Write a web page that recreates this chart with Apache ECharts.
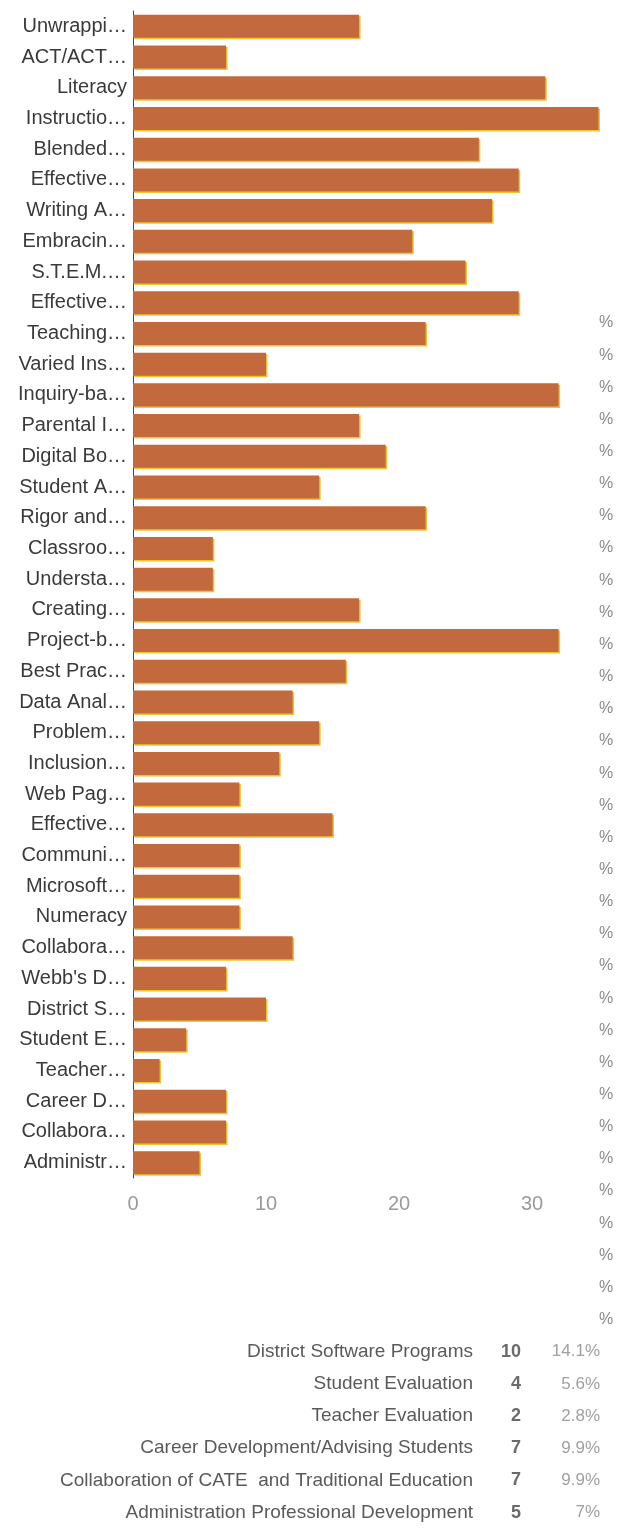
<!DOCTYPE html>
<html>
<head>
<meta charset="utf-8">
<script src="https://cdn.jsdelivr.net/npm/echarts@6/dist/echarts.min.js"></script>
<style>
html,body{margin:0;padding:0;background:#fff;}
#c{width:618px;height:1531px;}
</style>
</head>
<body>
<div id="c"></div>
<script>
var categories = ["Unwrappi…","ACT/ACT…","Literacy","Instructio…","Blended…","Effective…","Writing A…","Embracin…","S.T.E.M.…","Effective…","Teaching…","Varied Ins…","Inquiry-ba…","Parental I…","Digital Bo…","Student A…","Rigor and…","Classroo…","Understa…","Creating…","Project-b…","Best Prac…","Data Anal…","Problem…","Inclusion…","Web Pag…","Effective…","Communi…","Microsoft…","Numeracy","Collabora…","Webb's D…","District S…","Student E…","Teacher…","Career D…","Collabora…","Administr…"];
var counts = [17,7,31,35,26,29,27,21,25,29,22,10,32,17,19,14,22,6,6,17,32,16,12,14,11,8,15,8,8,8,12,7,10,4,2,7,7,5];
var xTicks = [0,10,20,30];
var tableNames = ["District Software Programs","Student Evaluation","Teacher Evaluation","Career Development/Advising Students","Collaboration of CATE  and Traditional Education","Administration Professional Development"];
var tableCounts = [10,4,2,7,7,5];
var tablePercents = ["14.1%","5.6%","2.8%","9.9%","9.9%","7%"];
var clippedPercentRows = 32;

var chart = echarts.init(document.getElementById('c'), null, {renderer:'canvas'});
var FONT = '"Liberation Sans", Arial, sans-serif';

var graphics = [];
var rowY0 = 323, rowStep = 32.15;
for (var i = 0; i < clippedPercentRows; i++) {
  graphics.push({type:'text', x: 606, y: rowY0 + i*rowStep,
    style:{text:'%', font:'16px ' + FONT, fill:'#8a8a8a', textAlign:'center', textVerticalAlign:'middle'}});
}
for (var j = 0; j < tableNames.length; j++) {
  var y = rowY0 + (clippedPercentRows + j) * rowStep;
  graphics.push({type:'text', x: 473, y: y, style:{text: tableNames[j], font:'19px ' + FONT, fill:'#5a5a5a', textAlign:'right', textVerticalAlign:'middle'}});
  graphics.push({type:'text', x: 521, y: y, style:{text: String(tableCounts[j]), font:'bold 18px ' + FONT, fill:'#6a6a6a', textAlign:'right', textVerticalAlign:'middle'}});
  graphics.push({type:'text', x: 600, y: y, style:{text: tablePercents[j], font:'17px ' + FONT, fill:'#a0a0a0', textAlign:'right', textVerticalAlign:'middle'}});
}

chart.setOption({
  animation:false,
  backgroundColor:'#ffffff',
  grid:{left:133, top:11, right:-47, height:1167, outerBoundsMode:'none', containLabel:false},
  xAxis:{type:'value', min:0, max:40, interval:10,
    axisLine:{show:false}, axisTick:{show:false}, splitLine:{show:false},
    axisLabel:{fontSize:20, fontFamily:FONT, color:'#9a9a9a', margin:16, showMaxLabel:false,
      formatter:function(v){ return xTicks.indexOf(v) >= 0 ? String(v) : ''; }}},
  yAxis:{type:'category', inverse:true, data:categories,
    axisLine:{show:true, lineStyle:{color:'#444', width:1}}, axisTick:{show:false},
    axisLabel:{fontSize:20, fontFamily:FONT, color:'#3a3a3a', margin:6, interval:0}},
  series:[{type:'bar', data:counts, barCategoryGap:'25%',
    itemStyle:{color:'#c26a3e', shadowColor:'#f2c230', shadowOffsetX:1.5, shadowOffsetY:1.5, shadowBlur:0}}],
  graphic: graphics
});
</script>
</body>
</html>
